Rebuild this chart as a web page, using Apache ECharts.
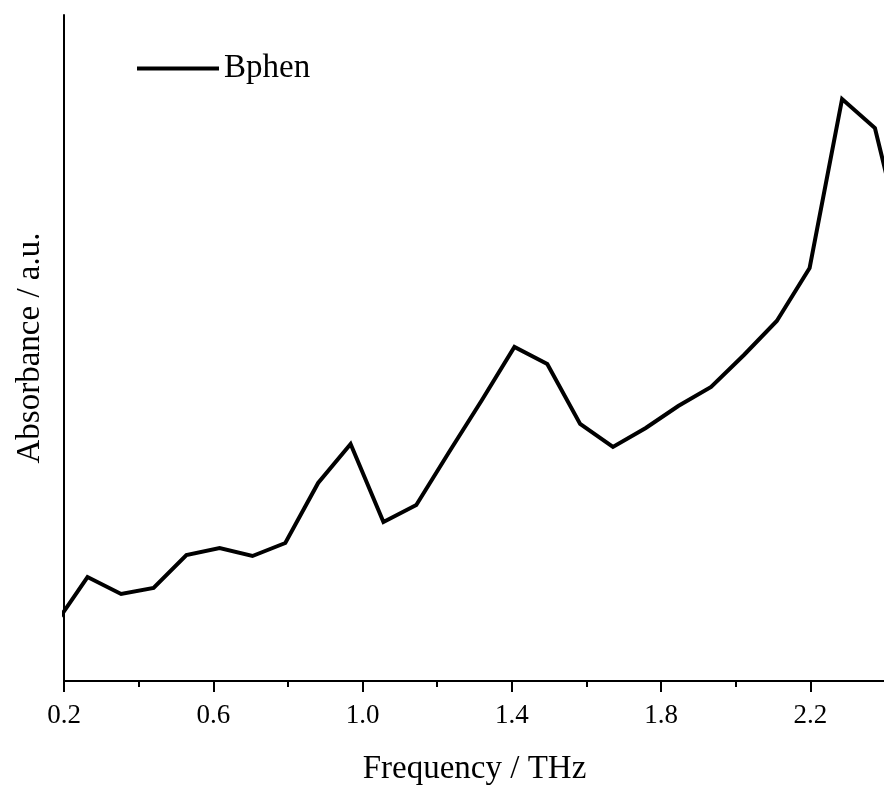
<!DOCTYPE html>
<html>
<head>
<meta charset="utf-8">
<script src="https://cdn.jsdelivr.net/npm/echarts@6/dist/echarts.min.js"></script>
<style>html,body{margin:0;padding:0;background:#fff}#c{width:884px;height:787px}</style>
</head>
<body>
<div id="c"></div>
<script>
var seriesName = 'Bphen';
var frequency = [0.175, 0.263, 0.353, 0.440, 0.528, 0.617, 0.705, 0.793, 0.881, 0.968,
                 1.056, 1.144, 1.232, 1.320, 1.407, 1.495, 1.583, 1.671, 1.759, 1.846,
                 1.934, 2.022, 2.110, 2.198, 2.285, 2.373, 2.461];
var absorbance = [0.56, 1.04, 0.87, 0.93, 1.26, 1.33, 1.25, 1.38, 1.98, 2.37,
                  1.59, 1.76, 2.29, 2.81, 3.34, 3.17, 2.57, 2.34, 2.53, 2.75,
                  2.94, 3.26, 3.60, 4.13, 5.82, 5.53, 4.18];
var majorTickValues = [0.2, 0.6, 1.0, 1.4, 1.8, 2.2];
var minorTickValues = [0.4, 0.8, 1.2, 1.6, 2.0, 2.4];
var xTitle = 'Frequency / THz';
var yTitle = 'Absorbance / a.u.';

var data = frequency.map(function (f, i) { return [f, absorbance[i]]; });
var font = 'Liberation Serif';

var chart = echarts.init(document.getElementById('c'), null, {renderer: 'canvas'});
chart.setOption({
  animation: false,
  backgroundColor: '#fff',
  grid: {left: 64, right: -1, top: 15, bottom: 106, containLabel: false, outerBoundsMode: 'none'},
  legend: {
    data: [seriesName],
    left: 132, top: 47,
    icon: 'rect', itemWidth: 82, itemHeight: 4, itemGap: 5,
    textStyle: {fontFamily: font, fontSize: 33, color: '#000', padding: [0, 0, 0, 0]}
  },
  xAxis: [{
    type: 'value', min: 0.2, max: 2.4,
    name: xTitle, nameLocation: 'middle', nameGap: 72,
    nameTextStyle: {fontFamily: font, fontSize: 33, color: '#000'},
    axisLine: {show: true, lineStyle: {color: '#000', width: 2}},
    axisTick: {show: true, inside: false, length: 11, lineStyle: {color: '#000', width: 2}, customValues: majorTickValues},
    axisLabel: {show: true, margin: 21, fontFamily: font, fontSize: 27, color: '#000',
      customValues: majorTickValues,
      formatter: function (v) { return v.toFixed(1); }},
    splitLine: {show: false}
  }, {
    type: 'value', min: 0.2, max: 2.4, position: 'bottom',
    axisLine: {show: false},
    axisTick: {show: true, inside: false, length: 6, lineStyle: {color: '#000', width: 2}, customValues: minorTickValues},
    axisLabel: {show: false},
    splitLine: {show: false}
  }],
  yAxis: {
    type: 'value', min: 0, max: 6.66,
    name: yTitle, nameLocation: 'middle', nameGap: 17,
    nameTextStyle: {fontFamily: font, fontSize: 33, color: '#000'},
    axisLine: {show: true, lineStyle: {color: '#000', width: 2}},
    axisTick: {show: false},
    axisLabel: {show: false},
    splitLine: {show: false}
  },
  series: [{
    name: seriesName,
    type: 'line',
    data: data,
    clip: true,
    showSymbol: false,
    symbol: 'none',
    lineStyle: {color: '#000', width: 4, join: 'miter'},
    itemStyle: {color: '#000'}
  }]
});
</script>
</body>
</html>
